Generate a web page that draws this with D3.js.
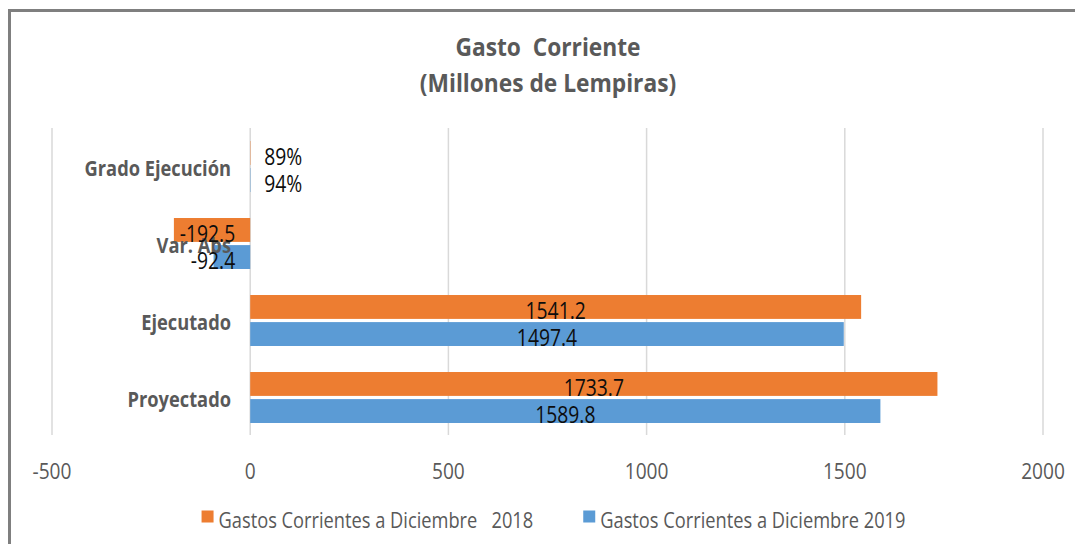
<!DOCTYPE html>
<html>
<head>
<meta charset="utf-8">
<script src="https://cdn.jsdelivr.net/npm/d3@7"></script>
<style>
  html, body { margin: 0; padding: 0; background: #fff; overflow: hidden; }
  text { font-family: "Open Sans", "Noto Sans", sans-serif; white-space: pre; }
</style>
</head>
<body>
<svg id="chart" width="1075" height="544"></svg>
<script>
// ---- data ----
const categories = ["Grado Ejecución", "Var. Abs", "Ejecutado", "Proyectado"];
const valueFormats = ["percent", "number", "number", "number"];
const seriesNames = ["Gastos Corrientes a Diciembre   2018", "Gastos Corrientes a Diciembre 2019"];
const values2018 = [0.89, -192.5, 1541.2, 1733.7];
const values2019 = [0.94, -92.4, 1497.4, 1589.8];
const xTicks = [-500, 0, 500, 1000, 1500, 2000];
const titleLines = ["Gasto  Corriente", "(Millones de Lempiras)"];
const colors = ["#ED7D31", "#5B9BD5"];

const seriesValues = [values2018, values2019];

const svg = d3.select("#chart");
const gray = "#595959";

// frame
svg.append("rect").attr("x", 9.5).attr("y", 10.5).attr("width", 1200).attr("height", 700)
  .attr("fill", "none").attr("stroke", "#7f7f7f").attr("stroke-width", 3);

const x = d3.scaleLinear().domain([-500, 2000]).range([52, 1043]);
const y0 = d3.scaleBand().domain(categories).range([128, 436]).paddingInner(0.338).paddingOuter(0.169);
const y1 = d3.scaleBand().domain([0, 1]).range([0, y0.bandwidth()]).paddingInner(0.118);

function txt(parent, tx, ty, s, sx, opts) {
  const t = parent.append("text")
    .attr("transform", `translate(${tx},${ty}) scale(${sx},1)`)
    .text(s);
  Object.entries(opts || {}).forEach(([k, v]) => t.attr(k, v));
  return t;
}

// title
txt(svg, 548, 56, titleLines[0], 0.91, {"text-anchor": "middle", "font-size": 25, "font-weight": "bold", fill: gray});
txt(svg, 548, 91.5, titleLines[1], 0.91, {"text-anchor": "middle", "font-size": 25, "font-weight": "bold", fill: gray});

// gridlines
svg.append("g").selectAll("line").data(xTicks).join("line")
  .attr("x1", d => x(d)).attr("x2", d => x(d))
  .attr("y1", 128).attr("y2", 435)
  .attr("stroke", "#d9d9d9").attr("stroke-width", 1.5);

// tick labels
const tickG = svg.append("g");
xTicks.forEach(t => txt(tickG, x(t), 479, String(t), 0.87, {"text-anchor": "middle", "font-size": 22, fill: gray}));

// bars
const defs = svg.append("defs");
const barsG = svg.append("g");
const barData = [];
categories.forEach((c, ci) => {
  seriesValues.forEach((vals, si) => {
    const v = vals[ci];
    barData.push({c, ci, si, v,
      y: y0(c) + y1(si), h: y1.bandwidth(),
      x0: Math.min(x(0), x(v)), w: Math.abs(x(v) - x(0))});
  });
});
barsG.selectAll("rect").data(barData).join("rect")
  .attr("x", d => d.x0).attr("y", d => d.y)
  .attr("width", d => d.w).attr("height", d => d.h)
  .attr("fill", d => colors[d.si]);

// category labels
const catG = svg.append("g");
categories.forEach(c => txt(catG, 231, y0(c) + y0.bandwidth() / 2 + 9.5, c, 0.87,
  {"text-anchor": "end", "font-size": 21, "font-weight": "bold", fill: gray}));

// data labels
const loc = d3.formatLocale({decimal: ".", thousands: ",", grouping: [3], currency: ["", ""], minus: "-", percent: "%"});
const fmtPct = loc.format(".0%");
const fmtNum = loc.format(".1f");
const labG = svg.append("g");
barData.forEach((d, i) => {
  const id = "clip" + i;
  defs.append("clipPath").attr("id", id).append("rect")
    .attr("x", 0).attr("y", d.y).attr("width", 1075).attr("height", d.h);
  const s = valueFormats[d.ci] === "percent" ? fmtPct(d.v) : fmtNum(d.v);
  let lx, anchor;
  if (d.w > 100) { lx = d.x0 + d.w / 2; anchor = "middle"; }
  else if (d.v < 0) { lx = x(0) - 15; anchor = "end"; }
  else { lx = x(0) + 14; anchor = "start"; }
  const g = labG.append("g").attr("clip-path", `url(#${id})`);
  txt(g, lx, d.y + d.h + 0.5, s, 0.84, {"text-anchor": anchor, "font-size": 23, fill: "#0d0d0d"});
});

// legend
const legG = svg.append("g");
const sx = 0.83;
const items = seriesNames.map((n, i) => {
  const t = txt(legG, 0, 527.5, n, sx, {"font-size": 22, fill: gray});
  return {t, w: t.node().getComputedTextLength() * sx, i};
});
const gap = 50, sw = 12, tg = 5;
const total = d3.sum(items, d => sw + tg + d.w) + gap * (items.length - 1);
let cx = 553.5 - total / 2;
items.forEach(it => {
  legG.append("rect").attr("x", cx).attr("y", 510.5).attr("width", sw).attr("height", sw).attr("fill", colors[it.i]);
  it.t.attr("transform", `translate(${cx + sw + tg},527.5) scale(${sx},1)`);
  cx += sw + tg + it.w + gap;
});
</script>
</body>
</html>
